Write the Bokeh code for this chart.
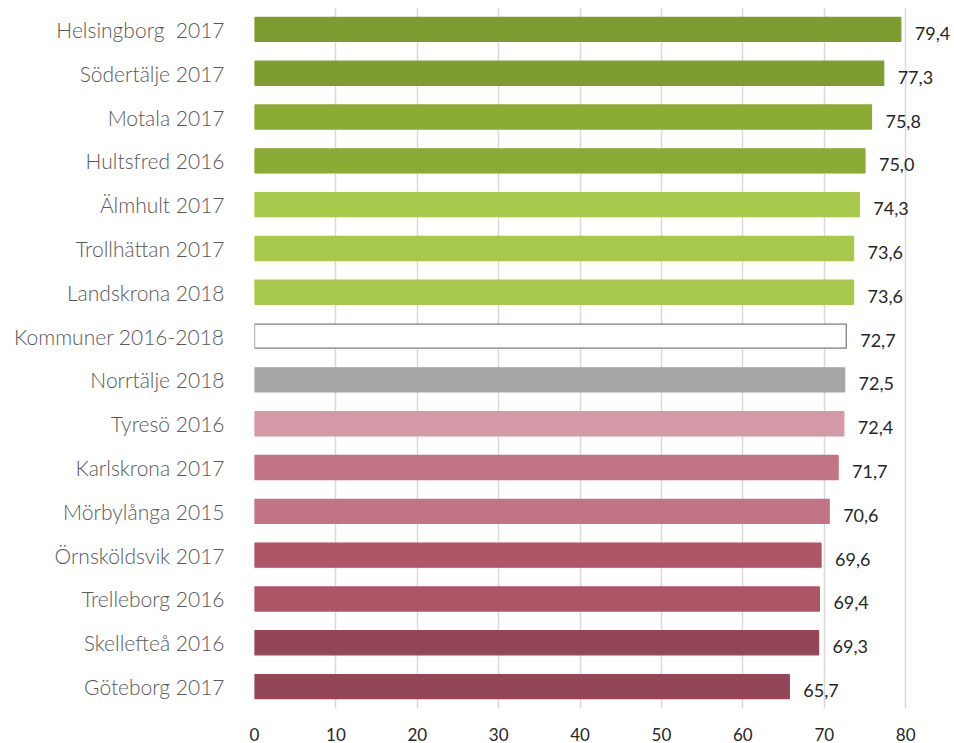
from bokeh.plotting import figure
from bokeh.models import FactorRange, ColumnDataSource, Range1d, FixedTicker, LabelSet
from bokeh.core.properties import value
from bokeh.embed import file_html
from bokeh.resources import INLINE

# Municipalities / survey year, top to bottom
categories = [
    "Helsingborg \u00a02017", "Södertälje 2017", "Motala 2017", "Hultsfred 2016",
    "Älmhult 2017", "Trollhättan 2017", "Landskrona 2018", "Kommuner 2016-2018",
    "Norrtälje 2018", "Tyresö 2016", "Karlskrona 2017", "Mörbylånga 2015",
    "Örnsköldsvik 2017", "Trelleborg 2016", "Skellefteå 2016", "Göteborg 2017",
]
values = [79.4, 77.3, 75.8, 75.0, 74.3, 73.6, 73.6, 72.7,
          72.5, 72.4, 71.7, 70.6, 69.6, 69.4, 69.3, 65.7]
x_ticks = [0, 10, 20, 30, 40, 50, 60, 70, 80]

fills = ["#7f9c31", "#7f9c31", "#8bab35", "#8bab35",
         "#a8c84b", "#a8c84b", "#a8c84b", "#ffffff",
         "#a6a6a6", "#d498a6", "#c17584", "#c17584",
         "#ae5567", "#ae5567", "#944657", "#944657"]
outlines = [c if c != "#ffffff" else "#7f7f7f" for c in fills]

src = ColumnDataSource(dict(
    cat=categories,
    val=values,
    fill=fills,
    line=outlines,
    lab=[f"{v:.1f}".replace(".", ",") for v in values],
))

LIGHT_FONT = "'Lato Light', Lato, sans-serif"

# the frame runs past 80 so the value labels have room; ticks/grid stop at 80
p = figure(
    width=954, height=743,
    y_range=FactorRange(factors=list(reversed(categories))),
    x_range=Range1d(0, 86),
    output_backend="svg", toolbar_location=None,
    min_border_left=254, min_border_right=0,
    min_border_top=7, min_border_bottom=35,
)
p.outline_line_color = None
p.background_fill_color = "white"

p.hbar(y="cat", right="val", left=0, height=0.55, source=src,
       fill_color="fill", line_color="line", line_width=1.3)

# value labels at the end of each bar
labels = LabelSet(x="val", y="cat", text="lab", source=src,
                  x_offset=14, y_offset=-4,
                  text_font=value("Lato"), text_font_size=value("18px"),
                  text_color=value("#262626"), text_align=value("left"),
                  text_baseline=value("middle"))
p.add_layout(labels)

# grid
p.ygrid.grid_line_color = None
p.xgrid.grid_line_color = "#d9d9d9"
p.xgrid.grid_line_width = 1.5
p.xgrid.ticker = FixedTicker(ticks=x_ticks)

# x axis
p.xaxis.ticker = FixedTicker(ticks=x_ticks)
p.xaxis.axis_line_color = None
p.xaxis.major_tick_line_color = None
p.xaxis.minor_tick_line_color = None
p.xaxis.major_label_text_font = "Lato"
p.xaxis.major_label_text_font_size = "17px"
p.xaxis.major_label_text_color = "#262626"
p.xaxis.major_label_standoff = 13

# category axis
p.yaxis.axis_line_color = None
p.yaxis.major_tick_line_color = None
p.yaxis.minor_tick_line_color = None
p.yaxis.major_label_text_font = LIGHT_FONT
p.yaxis.major_label_text_font_size = "21px"
p.yaxis.major_label_text_color = "#595959"
p.yaxis.major_label_standoff = 24

open("out.html", "w").write(file_html(p, INLINE))
